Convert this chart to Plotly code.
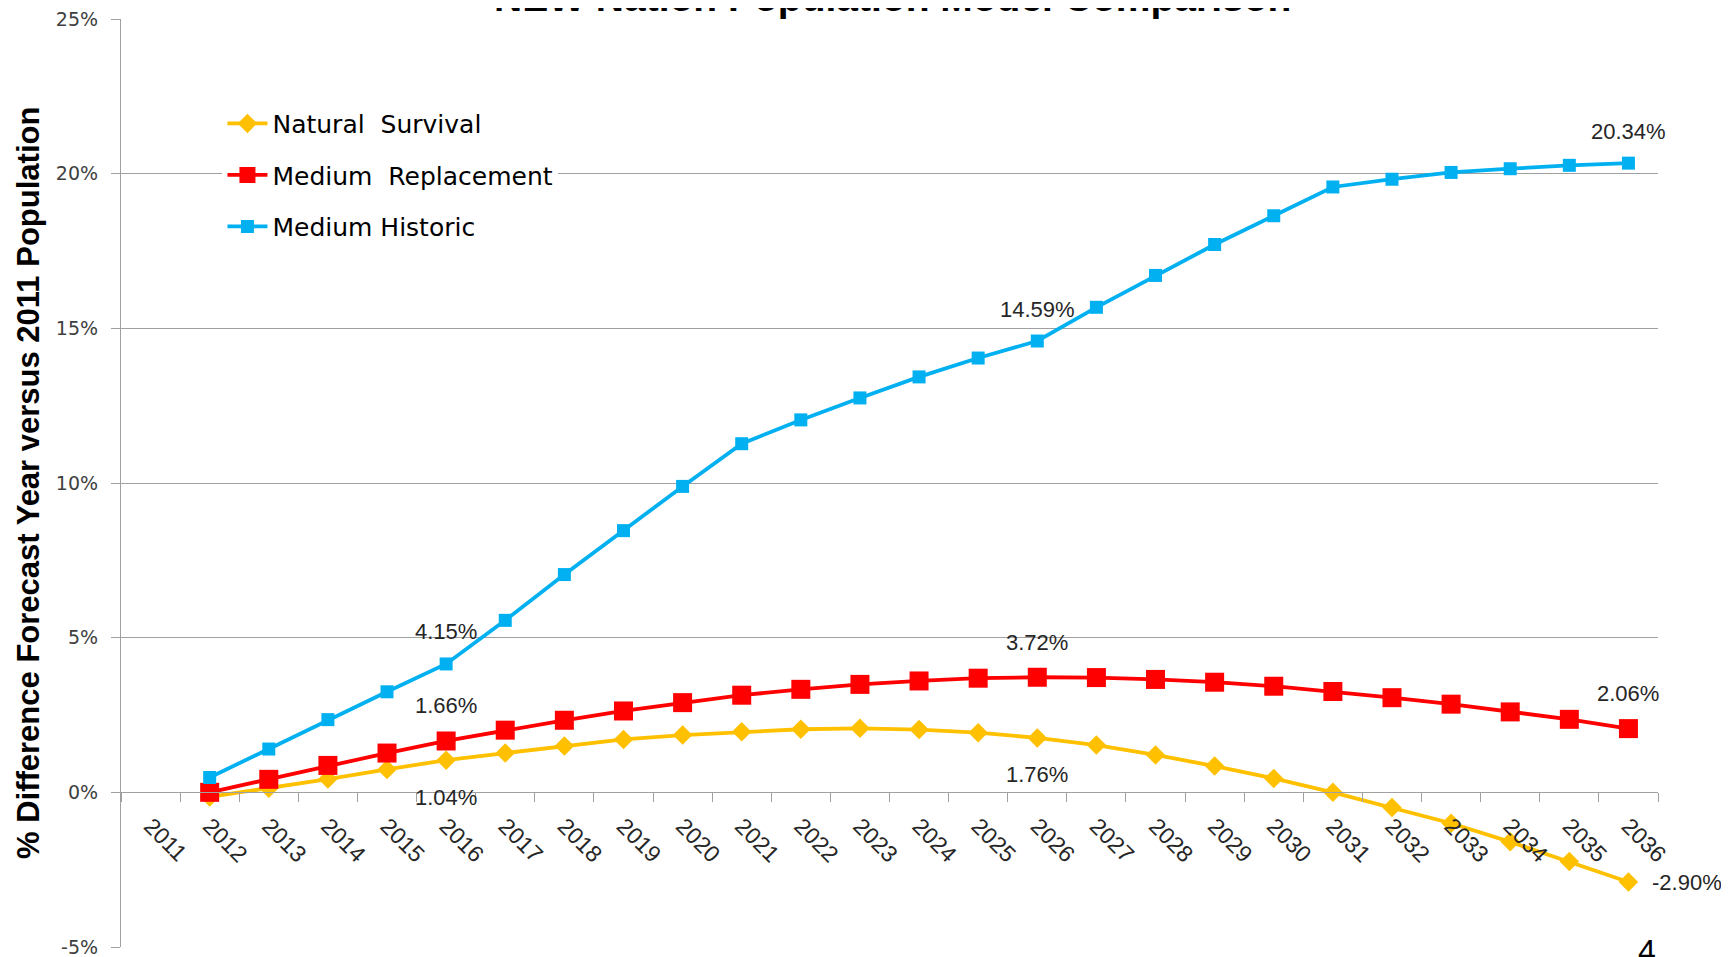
import plotly.graph_objects as go

years = [str(y) for y in range(2011, 2037)]

natural_survival = [None, -0.15, 0.13, 0.43, 0.74, 1.04, 1.27, 1.50, 1.71, 1.85, 1.96, 2.04, 2.07,
                    2.03, 1.93, 1.76, 1.53, 1.21, 0.85, 0.45, 0.00, -0.49, -1.00, -1.60, -2.24, -2.90]
medium_replacement = [None, 0.00, 0.42, 0.87, 1.27, 1.66, 2.01, 2.33, 2.63, 2.90, 3.14, 3.33, 3.49,
                      3.60, 3.69, 3.72, 3.71, 3.65, 3.56, 3.43, 3.26, 3.06, 2.85, 2.60, 2.36, 2.06]
medium_historic = [None, 0.48, 1.40, 2.35, 3.25, 4.15, 5.56, 7.04, 8.46, 9.89, 11.27, 12.04, 12.75,
                   13.43, 14.04, 14.59, 15.68, 16.71, 17.71, 18.64, 19.57, 19.82, 20.04, 20.16, 20.27, 20.34]

series_names = ["Natural\u00a0\u00a0Survival", "Medium\u00a0\u00a0Replacement", "Medium Historic"]
label_years = ["2016", "2026", "2036"]

title_text = "NEW Nation Population Model Comparison"
y_title = "% Difference Forecast Year versus 2011 Population"
y_ticks = [-5, 0, 5, 10, 15, 20, 25]
y_ticktext = [f"{v}%" for v in y_ticks]

colors = ["#FFC000", "#FF0000", "#00B0F0"]
symbols = ["diamond", "square", "square"]
msizes = [15, 19, 13]

fig = go.Figure()
all_series = [natural_survival, medium_replacement, medium_historic]
for i, (name, vals) in enumerate(zip(series_names, all_series)):
    fig.add_trace(go.Scatter(
        x=years, y=vals, name=name, mode="lines+markers",
        line=dict(color=colors[i], width=3.8),
        marker=dict(symbol=symbols[i], size=msizes[i], color=colors[i], line=dict(width=0)),
        legendgroup=f"g{i}", connectgaps=False,
    ))

label_font = dict(family="Liberation Sans, Arial", size=22, color="#262626")
label_style = [
    dict(yshift=-37),
    dict(yshift=35),
    dict(yshift=32),
]
annotations = []
for i, vals in enumerate(all_series):
    for yr in label_years:
        idx = years.index(yr)
        v = vals[idx]
        st = dict(label_style[i])
        xanchor = "center"
        if i == 0 and yr == label_years[-1]:
            st = dict(xshift=22)
            xanchor = "left"
        annotations.append(dict(
            x=idx, y=v, xref="x", yref="y", text=f"{v:.2f}%", showarrow=False,
            xanchor=xanchor, yanchor="middle", font=label_font, **st,
        ))

annotations.append(dict(
    x=-0.0605, y=0.5, xref="paper", yref="paper", text=f"<b>{y_title}</b>", textangle=-90,
    showarrow=False, xanchor="center", yanchor="middle",
    font=dict(family="Liberation Sans, Arial", size=31, color="#000000"),
))
annotations.append(dict(
    x=0.502, y=1, xref="paper", yref="paper", text=f"<b>{title_text}</b>",
    showarrow=False, xanchor="center", yanchor="bottom", yshift=-2,
    font=dict(family="Liberation Sans, Arial", size=39, color="#000000"),
))
annotations.append(dict(
    x=0.993, y=0, xref="paper", yref="paper", text="4",
    showarrow=False, xanchor="center", yanchor="top", yshift=16,
    font=dict(family="Liberation Sans, Arial", size=32, color="#000000"),
))

fig.update_layout(
    width=1721, height=949,
    margin=dict(l=113, r=71, t=11, b=10, autoexpand=False),
    paper_bgcolor="white", plot_bgcolor="white",
    annotations=annotations,
    showlegend=True,
    legend=dict(
        x=0.066, y=0.912, xanchor="left", yanchor="top",
        bgcolor="white", borderwidth=0,
        font=dict(family="DejaVu Sans", size=25, color="#000000"),
        traceorder="grouped", tracegroupgap=16,
        itemwidth=40, entrywidth=360, entrywidthmode="pixels",
    ),
    xaxis=dict(
        type="category", range=[-0.5, 25.5],
        anchor="free", position=1/6,
        showline=True, linecolor="#a0a0a0", linewidth=1.3,
        ticks="outside", tickson="boundaries", ticklen=9, tickcolor="#a0a0a0", tickwidth=1.3,
        tickangle=45, ticklabelstandoff=10, ticklabeloverflow="allow",
        tickfont=dict(family="Liberation Sans, Arial", size=23, color="#262626"),
        showgrid=False, zeroline=False, automargin=False,
    ),
    yaxis=dict(
        range=[-5, 25], tickmode="array", tickvals=y_ticks, ticktext=y_ticktext,
        showline=True, linecolor="#a0a0a0", linewidth=1.3,
        ticks="outside", ticklen=9, tickcolor="#a0a0a0", tickwidth=1.3,
        ticklabelstandoff=9, ticklabeloverflow="allow",
        showgrid=True, gridcolor="#a0a0a0", gridwidth=1.3,
        zeroline=False, automargin=False,
        tickfont=dict(family="DejaVu Sans", size=19, color="#404040"),
    ),
)

fig.write_html("out.html")
